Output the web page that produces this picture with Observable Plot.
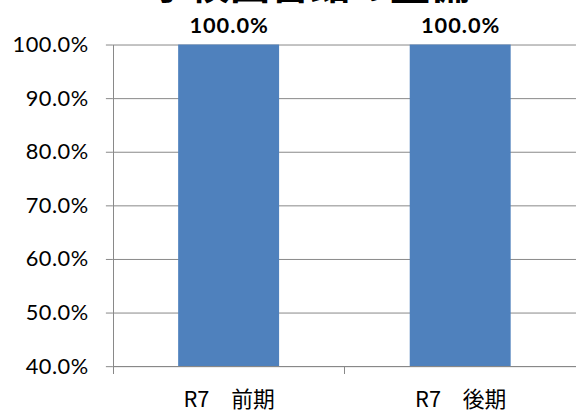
<!DOCTYPE html>
<html>
<head>
<meta charset="utf-8">
<script src="https://cdn.jsdelivr.net/npm/d3@7"></script>
<script src="https://cdn.jsdelivr.net/npm/@observablehq/plot@0.6"></script>
<style>
  html, body { margin: 0; padding: 0; background: #fff; overflow: hidden; }
  #wrap { position: relative; width: 576px; height: 414px; overflow: hidden; }
  #chart { position: absolute; left: 0; top: 0; }
  #title { position: absolute; left: 150px; width: 320px; top: -38px; text-align: center;
           font: bold 40px/40px "Noto Sans CJK JP", sans-serif; white-space: nowrap; color: #000; }
</style>
</head>
<body>
<div id="wrap">
  <div id="chart"></div>
  <div id="title">学校図書館の整備</div>
</div>
<script>
const categories = ["R7　前期", "R7　後期"];
const values = [1.0, 1.0];
const valueLabels = ["100.0%", "100.0%"];
const yTicks = [0.4, 0.5, 0.6, 0.7, 0.8, 0.9, 1.0];
const yDomain = [0.4, 1.0];

const rows = categories.map((c, i) => ({cat: c, value: values[i], label: valueLabels[i]}));
const gridColor = "#888888";

const plot = Plot.plot({
  width: 582,
  height: 414,
  marginLeft: 114,
  marginRight: 0,
  marginTop: 45,
  marginBottom: 44,
  style: {fontFamily: "Lato, sans-serif", background: "#fff", color: "#000"},
  x: {domain: categories, paddingInner: 0.564, paddingOuter: 0.282, label: null},
  y: {domain: yDomain, label: null},
  marks: [
    Plot.gridY(yTicks, {stroke: gridColor, strokeOpacity: 1, strokeWidth: 1}),
    Plot.barY(rows, {x: "cat", y1: () => yDomain[0], y2: "value", fill: "#4F81BD"}),
    Plot.axisY(yTicks, {
      tickFormat: d => (d * 100).toFixed(1) + "%",
      tickSize: 7, tickPadding: 18, stroke: gridColor, strokeOpacity: 1,
      fontSize: 22, fontWeight: "normal", fill: "#000", label: null
    }),
    Plot.axisX({
      tickSize: 0, tickPadding: 25, fontSize: 22, fill: "#000", label: null,
      fontFamily: "'Noto Sans CJK JP', sans-serif"
    }),
    Plot.text(rows, {
      x: "cat", y: "value", text: "label", dy: -19,
      fontSize: 22, fontWeight: "bold", fill: "#000", fontFamily: "Lato, sans-serif"
    })
  ]
});

document.getElementById("chart").appendChild(plot);

// left axis line and category boundary tick marks, positioned with Plot's own scales
const sx = plot.scale("x"), sy = plot.scale("y");
const svg = d3.select(plot.tagName.toLowerCase() === "svg" ? plot : plot.querySelector("svg"));
const x0 = sx.range[0], x1 = sx.range[1];
const yBase = sy.apply(yDomain[0]), yTop = sy.apply(yDomain[1]);
const bounds = [x0];
for (let i = 1; i < categories.length; i++) {
  bounds.push((sx.apply(categories[i - 1]) + sx.bandwidth + sx.apply(categories[i])) / 2);
}
bounds.push(x1);
const g = svg.append("g").attr("stroke", gridColor).attr("stroke-width", 1).attr("shape-rendering", "crispEdges");
g.append("line").attr("x1", x0 + 0.5).attr("x2", x0 + 0.5).attr("y1", yTop).attr("y2", yBase + 8);
g.append("line").attr("x1", x0).attr("x2", x1).attr("y1", yBase + 0.5).attr("y2", yBase + 0.5);
bounds.forEach(b => {
  g.append("line").attr("x1", b + 0.5).attr("x2", b + 0.5).attr("y1", yBase).attr("y2", yBase + 8);
});
svg.selectAll("[aria-label='y-axis tick label'] text").attr("letter-spacing", "0.5");
svg.selectAll("[aria-label='text'] text").attr("letter-spacing", "1");
</script>
</body>
</html>
